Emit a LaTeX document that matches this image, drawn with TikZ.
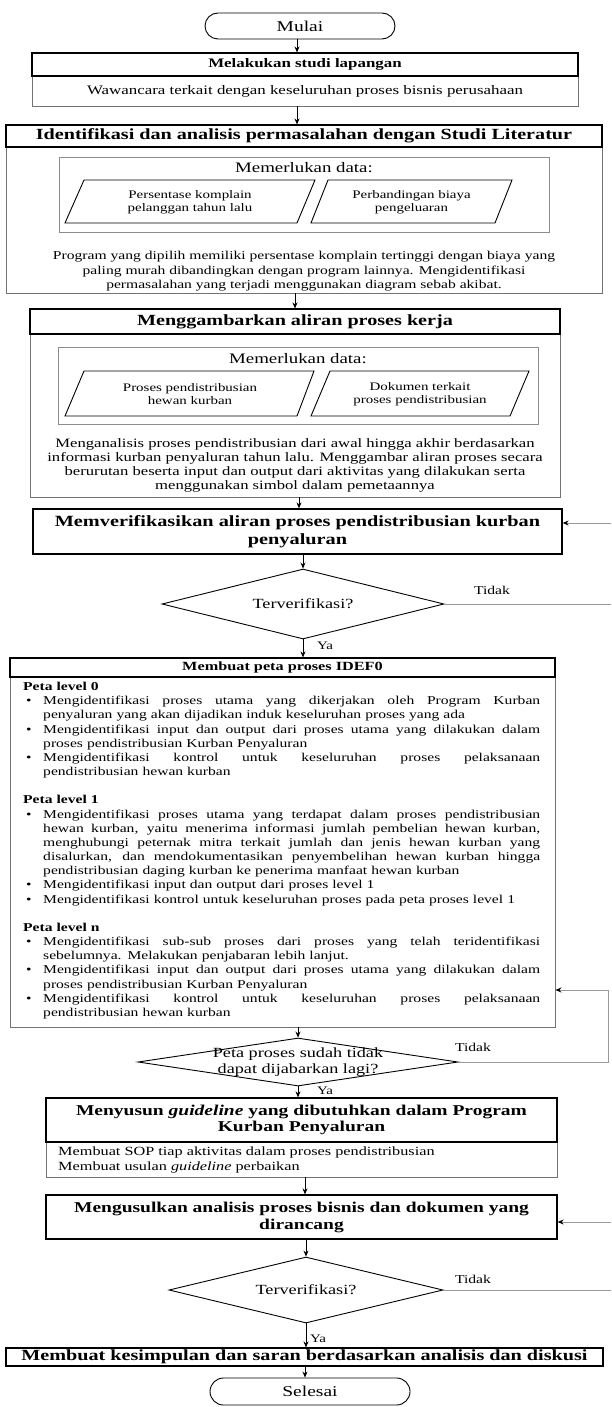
\documentclass[tikz,border=0pt]{standalone}
\usepackage{fontspec}
\setmainfont{Liberation Serif}[FakeStretch=1.3]
\usetikzlibrary{shapes.geometric,shapes.misc,arrows.meta}

\newcommand\fsz[2]{\fontsize{#1pt}{#2pt}\selectfont}
% a line spread out to the full text width (stretchable word spaces)
\newcommand\jl[1]{\hbox to 497pt{\spaceskip=0.25em plus 20em minus 0.05em\relax
  \xspaceskip=\spaceskip #1}}
\newcommand\bul{\makebox[20pt][l]{\hspace{3pt}\textbullet}}
\newcommand\ind{\hspace*{20pt}}

\begin{document}
\begin{tikzpicture}[x=1pt,y=-1pt,
  ttl/.style={draw=black, line width=1.1pt, align=center, inner sep=0pt},
  dsc/.style={draw=black!55, line width=0.9pt, inner sep=0pt},
  ibox/.style={draw=black!45, line width=0.8pt, inner sep=0pt},
  dec/.style={diamond, draw=black, line width=0.9pt, inner sep=0pt},
  term/.style={rounded rectangle, draw=black, line width=0.9pt, inner sep=0pt},
  lbl/.style={inner sep=0pt},
  arr/.style={draw=black, line width=0.8pt, -{Stealth[length=6pt,width=5pt]}},
  back/.style={draw=black!40, line width=0.9pt, -{Stealth[length=6pt,width=5pt,color=black]}},
  gline/.style={draw=black!40, line width=0.9pt},
  para/.style={draw=black, line width=0.9pt}
]
\useasboundingbox (0,0) rectangle (611,1407);
\fill[white] (0,0) rectangle (611,1407);

% columns used by the vertical connectors
\coordinate (c295) at (295,0);
\coordinate (c297) at (297,0);
\coordinate (c299) at (299,0);
\coordinate (c305) at (305,0);

% start
\node[term, minimum width=190pt, minimum height=26pt, font=\fsz{15}{18}] (mulai) at (300,26) {Mulai};

% field study
\node[dsc, minimum width=546pt, minimum height=30pt, font=\fsz{13}{15}] (b1d) at (305,91) {Wawancara terkait dengan keseluruhan proses bisnis perusahaan};
\node[ttl, minimum width=546pt, minimum height=23pt, font=\fsz{13}{15}\bfseries] (b1t) at (305,64.5) {Melakukan studi lapangan};

% problem identification
\node[dsc, minimum width=596pt, minimum height=146pt] (b2d) at (304,220) {};
\node[ttl, minimum width=596pt, minimum height=22pt, font=\fsz{15.5}{18}\bfseries] (b2t) at (304,136) {Identifikasi dan analisis permasalahan dengan Studi Literatur};
\node[ibox, minimum width=490pt, minimum height=75pt] (ib1) at (304,194.5) {};
\node[lbl, font=\fsz{14.5}{17}] (md1) at (304,168) {Memerlukan data:};
\draw[para] (84,180) -- (315,180) -- (297,223) -- (65,223) -- cycle;
\node[lbl, align=center, font=\fsz{11.5}{13}] (pa) at (190,202.5) {Persentase komplain\\pelanggan tahun lalu};
\draw[para] (328,180) -- (512,180) -- (495,223) -- (311,223) -- cycle;
\node[lbl, align=center, font=\fsz{11.5}{13}] (pb) at (411.5,202.5) {Perbandingan biaya\\pengeluaran};
\node[lbl, align=center, font=\fsz{12}{14.5}] (tx2) at (304,271.5) {Program yang dipilih memiliki persentase komplain tertinggi dengan biaya yang\\paling murah dibandingkan dengan program lainnya. Mengidentifikasi\\permasalahan yang terjadi menggunakan diagram sebab akibat.};

% work flow mapping
\node[dsc, minimum width=530pt, minimum height=163pt] (b3d) at (295,415.5) {};
\node[ttl, minimum width=530pt, minimum height=25pt, font=\fsz{15.5}{18}\bfseries] (b3t) at (295,321.5) {Menggambarkan aliran proses kerja};
\node[ibox, minimum width=480pt, minimum height=77pt] (ib2) at (298,385.5) {};
\node[lbl, font=\fsz{14.5}{17}] (md2) at (298,359) {Memerlukan data:};
\draw[para] (84,371) -- (314,371) -- (297,416) -- (65,416) -- cycle;
\node[lbl, align=center, font=\fsz{11.5}{13}] (pc) at (190,394) {Proses pendistribusian\\hewan kurban};
\draw[para] (330,371) -- (529,371) -- (510,416) -- (311,416) -- cycle;
\node[lbl, align=center, font=\fsz{11.5}{13}] (pd) at (420,394) {Dokumen terkait\\proses pendistribusian};
\node[lbl, align=center, font=\fsz{12.8}{14}] (tx3) at (295,465) {Menganalisis proses pendistribusian dari awal hingga akhir berdasarkan\\informasi kurban penyaluran tahun lalu. Menggambar aliran proses secara\\berurutan beserta input dan output dari aktivitas yang dilakukan serta\\menggunakan simbol dalam pemetaannya};

% verification
\node[ttl, line width=1.3pt, minimum width=529pt, minimum height=45pt, font=\fsz{15.6}{18}\bfseries] (b4) at (297.5,531.5) {Memverifikasikan aliran proses pendistribusian kurban\\penyaluran};
\coordinate (r1) at (611,523);
\draw[back] (r1) -- (r1 -| b4.east);

\node[dec, minimum width=282pt, minimum height=70pt] (d1) at (303,604) {};
\node[lbl, font=\fsz{14}{16}] (d1t) at (d1.center) {Terverifikasi?};
\coordinate (r2) at (611,604);
\draw[gline] (d1.east) -- (r2);
\node[lbl, font=\fsz{12}{14}] (n1) at (492,590) {Tidak};
\node[lbl, font=\fsz{11.5}{14}] (y1) at (325,646) {Ya};

% IDEF0 mapping
\node[dsc, minimum width=545pt, minimum height=350pt] (b5d) at (282.5,852) {};
\node[ttl, minimum width=545pt, minimum height=19pt, font=\fsz{12.5}{15}\bfseries] (b5t) at (282.5,667.5) {Membuat peta proses IDEF0};
\node[lbl, anchor=north west, align=left, text width=525pt, font=\fsz{12}{14.17}] (idef) at (23,682) {%
\textbf{Peta level 0}\\
\bul\jl{Mengidentifikasi proses utama yang dikerjakan oleh Program Kurban}\\
\ind penyaluran yang akan dijadikan induk keseluruhan proses yang ada\\
\bul\jl{Mengidentifikasi input dan output dari proses utama yang dilakukan dalam}\\
\ind proses pendistribusian Kurban Penyaluran\\
\bul\jl{Mengidentifikasi kontrol untuk keseluruhan proses pelaksanaan}\\
\ind pendistribusian hewan kurban\\[14.17pt]
\textbf{Peta level 1}\\
\bul\jl{Mengidentifikasi proses utama yang terdapat dalam proses pendistribusian}\\
\ind\jl{hewan kurban, yaitu menerima informasi jumlah pembelian hewan kurban,}\\
\ind\jl{menghubungi peternak mitra terkait jumlah dan jenis hewan kurban yang}\\
\ind\jl{disalurkan, dan mendokumentasikan penyembelihan hewan kurban hingga}\\
\ind pendistribusian daging kurban ke penerima manfaat hewan kurban\\
\bul Mengidentifikasi input dan output dari proses level 1\\
\bul Mengidentifikasi kontrol untuk keseluruhan proses pada peta proses level 1\\[14.17pt]
\textbf{Peta level n}\\
\bul\jl{Mengidentifikasi sub-sub proses dari proses yang telah teridentifikasi}\\
\ind sebelumnya. Melakukan penjabaran lebih lanjut.\\
\bul\jl{Mengidentifikasi input dan output dari proses utama yang dilakukan dalam}\\
\ind proses pendistribusian Kurban Penyaluran\\
\bul\jl{Mengidentifikasi kontrol untuk keseluruhan proses pelaksanaan}\\
\ind pendistribusian hewan kurban};

\node[dec, minimum width=320pt, minimum height=48pt] (d2) at (298,1062) {};
\node[lbl, align=center, font=\fsz{14}{16.5}] (d2t) at (d2.center) {Peta proses sudah tidak\\dapat dijabarkan lagi?};
\coordinate (lp) at (608,990);
\draw[back] (d2.east) -| (lp) -- (lp -| b5d.east);
\node[lbl, font=\fsz{12}{14}] (n2) at (473,1047) {Tidak};
\node[lbl, font=\fsz{11.5}{14}] (y2) at (325,1091) {Ya};

% guideline
\node[dsc, minimum width=511pt, minimum height=35pt] (b6d) at (301.5,1159.5) {};
\node[ttl, line width=1.3pt, minimum width=511pt, minimum height=44pt, font=\fsz{15}{16.5}\bfseries] (b6t) at (301.5,1120) {Menyusun \textit{guideline} yang dibutuhkan dalam Program\\Kurban Penyaluran};
\node[lbl, anchor=west, align=left, font=\fsz{12.5}{15}] (b6x) at (58,1159.5) {Membuat SOP tiap aktivitas dalam proses pendistribusian\\Membuat usulan \textit{guideline} perbaikan};

% proposal
\node[ttl, line width=1.3pt, minimum width=511pt, minimum height=44pt, font=\fsz{15}{17}\bfseries] (b7) at (301.5,1217) {Mengusulkan analisis proses bisnis dan dokumen yang\\dirancang};
\coordinate (r3) at (611,1222);
\draw[back] (r3) -- (r3 -| b7.east);

\node[dec, minimum width=274pt, minimum height=66pt] (d3) at (306,1290) {};
\node[lbl, font=\fsz{14}{16}] (d3t) at (d3.center) {Terverifikasi?};
\coordinate (r4) at (611,1290);
\draw[gline] (d3.east) -- (r4);
\node[lbl, font=\fsz{12}{14}] (n3) at (473,1279) {Tidak};
\node[lbl, font=\fsz{11.5}{14}] (y3) at (318,1339) {Ya};

% conclusion and end
\node[ttl, minimum width=597pt, minimum height=18pt, font=\fsz{15.5}{17}\bfseries] (b8) at (304.5,1357) {Membuat kesimpulan dan saran berdasarkan analisis dan diskusi};
\node[term, minimum width=200pt, minimum height=27pt, font=\fsz{15}{18}] (sel) at (310,1391.5) {Selesai};

% vertical connectors
\draw[arr] (mulai.south -| c297) -- (b1t.north -| c297);
\draw[arr] (b1d.south -| c297) -- (b2t.north -| c297);
\draw[arr] (b2d.south -| c295) -- (b3t.north -| c295);
\draw[arr] (b3d.south -| c299) -- (b4.north -| c299);
\draw[arr] (b4.south -| d1) -- (d1.north);
\draw[arr] (d1.south) -- (d1.south |- b5t.north);
\draw[arr] (b5d.south -| d2) -- (d2.north);
\draw[arr] (d2.south) -- (d2.south |- b6t.north);
\draw[arr] (b6d.south -| c305) -- (b7.north -| c305);
\draw[arr] (b7.south -| d3) -- (d3.north);
\draw[arr] (d3.south) -- (d3.south |- b8.north);
\draw[arr] (b8.south -| c305) -- (sel.north -| c305);
\end{tikzpicture}
\end{document}
